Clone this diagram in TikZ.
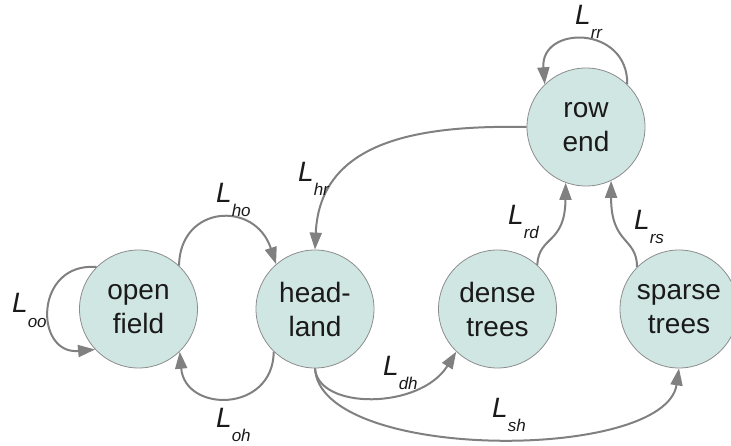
\documentclass[tikz,border=0pt]{standalone}
\usepackage{fontspec}
\setmainfont{Liberation Sans}
\usetikzlibrary{arrows.meta}
\definecolor{nodefill}{HTML}{D0E6E3}
\definecolor{nodeedge}{HTML}{8C8C8C}
\definecolor{edgegray}{HTML}{808080}
\definecolor{txt}{HTML}{1A1A1A}
\newcommand{\Lab}[1]{\textit{L}\raisebox{-0.5em}{\fontsize{17}{17}\selectfont\textit{#1}}}
\begin{document}
\begin{tikzpicture}[x=1pt,y=1pt,
  state/.style={circle, draw=nodeedge, line width=0.8pt, fill=nodefill, minimum size=118pt, inner sep=0pt, align=center, font=\fontsize{28}{34}\selectfont, text=txt},
  trans/.style={draw=edgegray, line width=2pt, -{Triangle[length=17pt,width=12pt]}},
  lab/.style={anchor=base west, inner sep=0pt, font=\fontsize{28}{34}\selectfont, text=txt}]
\useasboundingbox (0,0) rectangle (731,445);
\clip (0,0) rectangle (731,445);
\node[state] (open) at (138.5,136) {open\\field};
\node[state] (head) at (315,136) {head-\\land};
\node[state] (dense) at (497.5,136) {dense\\trees};
\node[state] (sparse) at (679,136) {sparse\\trees};
\node[state] (row) at (586,318) {row\\end};
\draw[trans] (open.135) .. controls (34,183) and (34,90) .. (open.223);
\draw[trans] (open.47) .. controls (180,240) and (255,245) .. (head.131);
\draw[trans] (head.226) .. controls (273,32) and (185,32) .. (open.314);
\draw[trans] (row.west) .. controls (420,320) and (320,305) .. (head.north);
\draw[trans] (row.46) .. controls (628,420) and (540,420) .. (row.134);
\draw[trans] (dense.48) .. controls (539,210) and (565,200) .. (row.250);
\draw[trans] (sparse.135) .. controls (637,208) and (611,200) .. (row.295);
\draw[trans] (head.south) .. controls (318,35) and (420,35) .. (dense.226);
\draw[trans] (head.south) .. controls (320,-17) and (665,-17) .. (sparse.south);
\node[lab] (loo) at (12,132) {\Lab{oo}};
\node[lab] (lho) at (216,242) {\Lab{ho}};
\node[lab] (loh) at (216,18) {\Lab{oh}};
\node[lab] (lhr) at (298,263) {\Lab{hr}};
\node[lab] (lrr) at (575,420) {\Lab{rr}};
\node[lab] (lrd) at (508,220) {\Lab{rd}};
\node[lab] (lrs) at (634,215) {\Lab{rs}};
\node[lab] (ldh) at (383,70) {\Lab{dh}};
\node[lab] (lsh) at (492,28) {\Lab{sh}};
\end{tikzpicture}
\end{document}
